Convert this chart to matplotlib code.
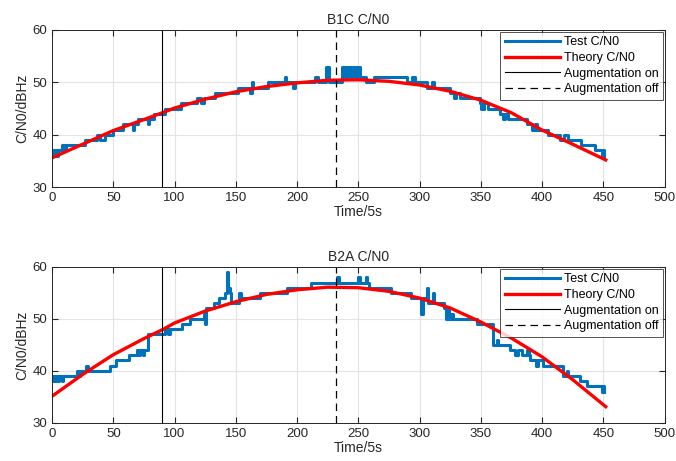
import numpy as np
import matplotlib.pyplot as plt

plt.rcParams['font.family'] = ['Liberation Sans', 'DejaVu Sans']

# ---------------- data ----------------
# theory curves (Time/5s, dBHz)
THEORY_T = [0, 25, 50, 75, 90, 100, 125, 150, 175, 200, 225, 250, 275, 300, 325, 350, 375, 400, 425, 452]
B1C_THEORY = [35.6, 38.2, 40.8, 42.9, 44.2, 45.1, 46.8, 48.2, 49.2, 49.9, 50.4, 50.5, 50.2, 49.5, 48.3,
              46.6, 44.2, 40.9, 38.2, 35.2]
B2A_THEORY = [35.1, 39.3, 43.1, 46.2, 47.9, 49.2, 51.5, 53.3, 54.7, 55.6, 56.1, 56.0, 55.3, 54.0, 52.1,
              49.4, 46.3, 42.7, 38.3, 33.1]

# measured C/N0, step breakpoints (value holds until the next time)
B1C_T = [0, 1, 2, 4, 5, 8, 10, 11, 27, 37, 39, 43, 50, 58, 66, 67, 70, 78, 79, 83, 92, 105, 118, 122,
         124, 133, 152, 162, 163, 164, 176, 190, 191, 197, 198, 215, 217, 224, 226, 237, 239, 241, 243,
         245, 247, 249, 251, 256, 263, 290, 294, 296, 306, 310, 312, 325, 328, 330, 333, 349, 350, 353,
         356, 366, 368, 370, 372, 388, 392, 394, 396, 405, 415, 418, 421, 432, 443, 449, 450, 451]
B1C_TEST = [37, 36, 37, 36, 37, 38, 37, 38, 39, 40, 39, 40, 41, 42, 41, 42, 43, 42, 43, 44, 45, 46, 47, 46,
            47, 48, 49, 48, 50, 49, 50, 51, 50, 49, 50, 51, 50, 53, 50, 53, 51, 53, 51,
            53, 51, 53, 51, 50, 51, 50, 51, 50, 49, 50, 49, 48, 47, 48, 47, 46, 45, 46,
            45, 44, 43, 44, 43, 42, 41, 42, 41, 40, 39, 40, 39, 38, 37, 36, 37, 36]

B2A_T = [0, 1, 2, 3, 5, 6, 8, 9, 20, 22, 23, 28, 29, 47, 52, 63, 69, 70, 72, 74, 75, 78, 92, 95, 96,
         106, 113, 124, 125, 126, 132, 136, 141, 143, 144, 145, 146, 153, 154, 170, 192, 211, 233, 234,
         250, 251, 256, 257, 259, 277, 293, 301, 303, 306, 307, 311, 312, 320, 322, 323, 324, 326, 327,
         347, 360, 363, 364, 374, 378, 380, 384, 388, 389, 390, 395, 397, 401, 417, 420, 421, 431, 437,
         449, 450, 451]
B2A_TEST = [38, 39, 38, 39, 38, 39, 38, 39, 40, 39, 40, 41, 40, 41, 42, 43, 44, 43, 44, 43, 44, 47, 48, 47, 48,
            49, 50, 51, 49, 52, 53, 54, 55, 59, 56, 55, 53, 55, 54, 55, 56, 57, 58, 57,
            58, 57, 58, 57, 56, 55, 54, 51, 54, 56, 53, 55, 53, 52, 50, 52, 50, 51, 50,
            49, 45, 46, 45, 44, 43, 44, 43, 44, 43, 42, 41, 42, 41, 39, 40, 39, 38, 37,
            36, 37, 36]

AUG_ON = 90
AUG_OFF = 232

PANELS = [
    ("B1C C/N0", B1C_T, B1C_TEST, B1C_THEORY),
    ("B2A C/N0", B2A_T, B2A_TEST, B2A_THEORY),
]
# ----------------------------------------------------------

fig = plt.figure(figsize=(6.76, 4.61), dpi=100)
rects = [[0.077, 0.594, 0.906, 0.341], [0.077, 0.083, 0.906, 0.338]]

for rect, (title, t, test, theory) in zip(rects, PANELS):
    ax = fig.add_axes(rect)
    ax.plot(t, test, color="#0072BD", lw=2.2, drawstyle="steps-post", label="Test C/N0")
    ax.plot(THEORY_T, theory, color="#FF0000", lw=2.4, label="Theory C/N0")
    ax.axvline(AUG_ON, color="black", lw=0.8, label="Augmentation on")
    ax.axvline(AUG_OFF, color="black", lw=0.9, linestyle=(0, (6, 4)), label="Augmentation off")

    ax.set_xlim(0, 500)
    ax.set_ylim(30, 60)
    ax.set_xticks(np.arange(0, 501, 50))
    ax.set_yticks([30, 40, 50, 60])
    ax.grid(True, color="#e3e3e3", lw=0.8)
    ax.set_axisbelow(True)
    ax.tick_params(direction="in", top=True, right=True, labelsize=9.5, length=4,
                   color="#262626", labelcolor="#262626")
    for s in ax.spines.values():
        s.set_color("#262626")
        s.set_linewidth(0.7)
    ax.set_title(title, fontsize=10, color="#262626", pad=4)
    ax.set_xlabel("Time/5s", fontsize=10, color="#262626", labelpad=1)
    ax.set_ylabel("C/N0/dBHz", fontsize=10, color="#262626", labelpad=2)
    leg = ax.legend(loc="upper right", fontsize=9, frameon=True, fancybox=False,
                    borderaxespad=0.15, handlelength=4.4, borderpad=0.35, labelspacing=0.3,
                    handletextpad=0.3)
    leg.get_frame().set_edgecolor("#262626")
    leg.get_frame().set_linewidth(0.7)

fig.savefig("out.png", dpi=100)
